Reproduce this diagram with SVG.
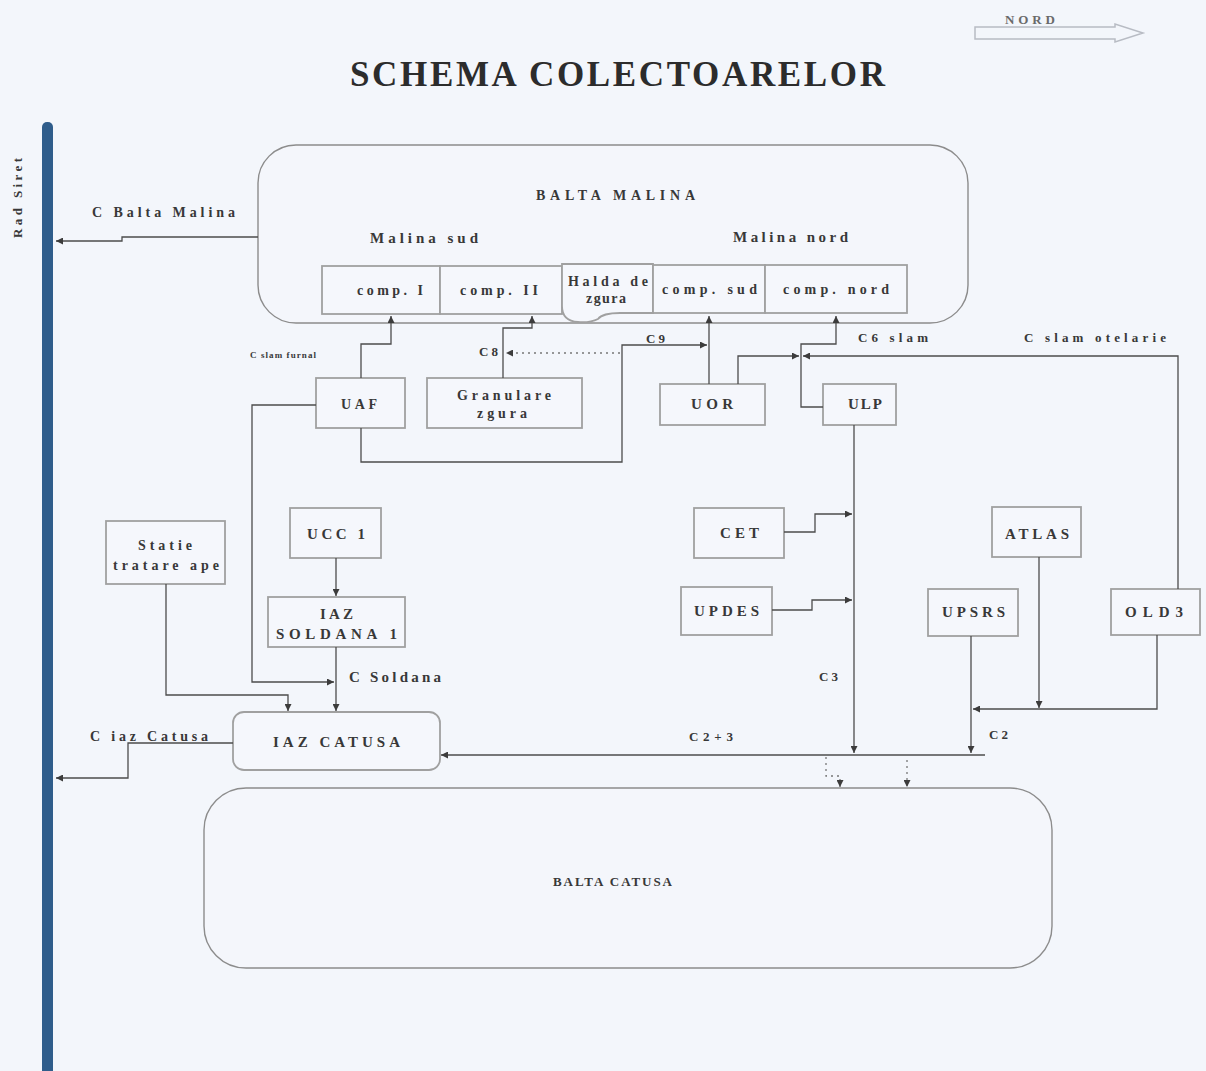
<svg xmlns="http://www.w3.org/2000/svg" width="1206" height="1071" viewBox="0 0 1206 1071">
  <style>
    .t { font-family: "Liberation Serif", "Times New Roman", serif; font-weight: bold; fill: #383838; }
    .box { fill: #f5f7fc; stroke: #a0a0a0; stroke-width: 1.8; }
    .lake { fill: #f4f6fb; stroke: #8c8c8c; stroke-width: 1.4; }
    .ln { fill: none; stroke: #4c4c4c; stroke-width: 1.3; }
    .dot { stroke-dasharray: 2 4; stroke: #777; }
  </style>
  <defs>
    <marker id="arr" viewBox="0 0 8 8" refX="8" refY="4" markerWidth="7" markerHeight="7" markerUnits="userSpaceOnUse" orient="auto">
      <path d="M0,0 L8,4 L0,8 Z" fill="#3c3c3c"/>
    </marker>
  </defs>

  <rect width="1206" height="1071" fill="#f3f6fb"/>

  <!-- north indicator -->
  <g id="north">
    <text class="t" x="1005" y="24" font-size="13" style="fill:#6a6a6a" textLength="50">NORD</text>
    <path d="M975,27 H1115 V24 L1143,33 L1115,42 V39 H975 Z" fill="none" stroke="#b8bcc4" stroke-width="1.5"/>
  </g>

  <!-- title -->
  <text class="t" x="350" y="86" font-size="35" textLength="535" lengthAdjust="spacing" style="fill:#2c2c2c">SCHEMA COLECTOARELOR</text>

  <!-- river -->
  <g id="rau-siret">
    <rect x="42" y="122" width="11" height="960" rx="5" fill="#2f5d8b"/>
    <text class="t" transform="translate(22,238) rotate(-90)" font-size="13" textLength="80" lengthAdjust="spacing">Rad Siret</text>
  </g>

  <!-- Balta Malina with its compartments -->
  <g id="balta-malina">
    <rect class="lake" x="258" y="145" width="710" height="178" rx="38"/>
    <text class="t" x="536" y="200" font-size="14" textLength="159" lengthAdjust="spacing">BALTA MALINA</text>
    <text class="t" x="370" y="243" font-size="15" textLength="108" lengthAdjust="spacing">Malina sud</text>
    <text class="t" x="733" y="242" font-size="15" textLength="115" lengthAdjust="spacing">Malina nord</text>
  </g>
  <g id="comp-1">
    <rect class="box" x="322" y="266" width="118" height="48"/>
    <text class="t" x="357" y="295" font-size="14" textLength="66" lengthAdjust="spacing">comp. I</text>
  </g>
  <g id="comp-2">
    <rect class="box" x="440" y="266" width="122" height="48"/>
    <text class="t" x="460" y="295" font-size="14" textLength="78" lengthAdjust="spacing">comp. II</text>
  </g>
  <g id="halda-zgura">
    <path class="box" d="M562,264 H653 V313 H620 C607,313 601,315 598,319 Q590,323 578,322 Q562,321 562,306 Z"/>
    <text class="t" x="568" y="286" font-size="14" textLength="80" lengthAdjust="spacing">Halda de</text>
    <text class="t" x="586" y="303" font-size="14" textLength="40" lengthAdjust="spacing">zgura</text>
  </g>
  <g id="comp-sud">
    <rect class="box" x="653" y="265" width="112" height="48"/>
    <text class="t" x="662" y="294" font-size="14" textLength="95" lengthAdjust="spacing">comp. sud</text>
  </g>
  <g id="comp-nord">
    <rect class="box" x="765" y="265" width="142" height="48"/>
    <text class="t" x="783" y="294" font-size="14" textLength="106" lengthAdjust="spacing">comp. nord</text>
  </g>

  <!-- units -->
  <g id="uaf">
    <rect class="box" x="316" y="378" width="89" height="50"/>
    <text class="t" x="341" y="409" font-size="14" textLength="36" lengthAdjust="spacing">UAF</text>
  </g>
  <g id="granulare-zgura">
    <rect class="box" x="427" y="378" width="155" height="50"/>
    <text class="t" x="457" y="400" font-size="14" textLength="94" lengthAdjust="spacing">Granulare</text>
    <text class="t" x="477" y="418" font-size="14" textLength="50" lengthAdjust="spacing">zgura</text>
  </g>
  <g id="uor">
    <rect class="box" x="660" y="384" width="105" height="41"/>
    <text class="t" x="691" y="409" font-size="15" textLength="42" lengthAdjust="spacing">UOR</text>
  </g>
  <g id="ulp">
    <rect class="box" x="823" y="384" width="73" height="41"/>
    <text class="t" x="848" y="409" font-size="15" textLength="34" lengthAdjust="spacing">ULP</text>
  </g>
  <g id="statie-tratare-ape">
    <rect class="box" x="106" y="521" width="119" height="63"/>
    <text class="t" x="138" y="550" font-size="14" textLength="54" lengthAdjust="spacing">Statie</text>
    <text class="t" x="113" y="570" font-size="14" textLength="106" lengthAdjust="spacing">tratare ape</text>
  </g>
  <g id="ucc-1">
    <rect class="box" x="290" y="508" width="91" height="50"/>
    <text class="t" x="307" y="539" font-size="15" textLength="58" lengthAdjust="spacing">UCC 1</text>
  </g>
  <g id="iaz-soldana-1">
    <rect class="box" x="268" y="597" width="137" height="50"/>
    <text class="t" x="320" y="619" font-size="15" textLength="33" lengthAdjust="spacing">IAZ</text>
    <text class="t" x="276" y="639" font-size="15" textLength="121" lengthAdjust="spacing">SOLDANA 1</text>
  </g>
  <g id="cet">
    <rect class="box" x="694" y="508" width="90" height="50"/>
    <text class="t" x="720" y="538" font-size="15" textLength="39" lengthAdjust="spacing">CET</text>
  </g>
  <g id="updes">
    <rect class="box" x="681" y="587" width="91" height="48"/>
    <text class="t" x="694" y="616" font-size="15" textLength="65" lengthAdjust="spacing">UPDES</text>
  </g>
  <g id="atlas">
    <rect class="box" x="992" y="507" width="89" height="50"/>
    <text class="t" x="1005" y="539" font-size="15" textLength="64" lengthAdjust="spacing">ATLAS</text>
  </g>
  <g id="upsrs">
    <rect class="box" x="928" y="589" width="90" height="47"/>
    <text class="t" x="942" y="617" font-size="15" textLength="63" lengthAdjust="spacing">UPSRS</text>
  </g>
  <g id="old3">
    <rect class="box" x="1111" y="589" width="89" height="46"/>
    <text class="t" x="1125" y="617" font-size="15" textLength="58" lengthAdjust="spacing">OLD3</text>
  </g>
  <g id="iaz-catusa">
    <rect class="box" x="233" y="712" width="207" height="58" rx="11"/>
    <text class="t" x="273" y="747" font-size="15" textLength="127" lengthAdjust="spacing">IAZ CATUSA</text>
  </g>
  <g id="balta-catusa">
    <rect class="lake" x="204" y="788" width="848" height="180" rx="42"/>
    <text class="t" x="553" y="886" font-size="13" textLength="119" lengthAdjust="spacing">BALTA CATUSA</text>
  </g>

  <!-- collectors -->
  <g id="connectors">
    <path class="ln" d="M258,237 H122 V241 H56" marker-end="url(#arr)"/>
    <path class="ln" d="M361,378 V344 H391 V316" marker-end="url(#arr)"/>
    <path class="ln" d="M503,378 V328 H532 V316" marker-end="url(#arr)"/>
    <path class="ln" d="M709,384 V316" marker-end="url(#arr)"/>
    <path class="ln" d="M361,428 V462 H622 V345 H707" marker-end="url(#arr)"/>
    <path class="ln dot" d="M620,353 H506" marker-end="url(#arr)"/>
    <path class="ln" d="M823,407 H801 V344 H836 V316" marker-end="url(#arr)"/>
    <path class="ln" d="M738,384 V356 H799" marker-end="url(#arr)"/>
    <path class="ln" d="M1178,589 V356 H803" marker-end="url(#arr)"/>
    <path class="ln" d="M316,405 H252 V682 H334" marker-end="url(#arr)"/>
    <path class="ln" d="M336,558 V596" marker-end="url(#arr)"/>
    <path class="ln" d="M336,647 V711" marker-end="url(#arr)"/>
    <path class="ln" d="M166,584 V695 H288 V711" marker-end="url(#arr)"/>
    <path class="ln" d="M854,425 V753" marker-end="url(#arr)"/>
    <path class="ln" d="M784,532 H815 V514 H852" marker-end="url(#arr)"/>
    <path class="ln" d="M772,610 H812 V600 H852" marker-end="url(#arr)"/>
    <path class="ln" d="M1039,557 V708" marker-end="url(#arr)"/>
    <path class="ln" d="M1157,635 V709 H973" marker-end="url(#arr)"/>
    <path class="ln" d="M971,636 V753" marker-end="url(#arr)"/>
    <path class="ln" d="M985,755 H441" marker-end="url(#arr)"/>
    <path class="ln" d="M233,743 H128 V778 H56" marker-end="url(#arr)"/>
    <path class="ln dot" d="M826,757 V776 H840 V787" marker-end="url(#arr)"/>
    <path class="ln dot" d="M907,760 V787" marker-end="url(#arr)"/>

    <!-- collector labels -->
    <text class="t" x="92" y="217" font-size="14" textLength="143" lengthAdjust="spacing">C Balta Malina</text>
    <text class="t" x="250" y="358" font-size="9" textLength="66" lengthAdjust="spacing">C slam furnal</text>
    <text class="t" x="479" y="356" font-size="13" textLength="19" lengthAdjust="spacing">C8</text>
    <text class="t" x="646" y="343" font-size="13" textLength="19" lengthAdjust="spacing">C9</text>
    <text class="t" x="858" y="342" font-size="13" textLength="70" lengthAdjust="spacing">C6 slam</text>
    <text class="t" x="1024" y="342" font-size="13" textLength="142" lengthAdjust="spacing">C slam otelarie</text>
    <text class="t" x="349" y="682" font-size="15" textLength="92" lengthAdjust="spacing">C Soldana</text>
    <text class="t" x="819" y="681" font-size="13" textLength="19" lengthAdjust="spacing">C3</text>
    <text class="t" x="689" y="741" font-size="13" textLength="44" lengthAdjust="spacing">C2+3</text>
    <text class="t" x="989" y="739" font-size="13" textLength="19" lengthAdjust="spacing">C2</text>
    <text class="t" x="90" y="741" font-size="14" textLength="118" lengthAdjust="spacing">C iaz Catusa</text>
  </g>
</svg>
